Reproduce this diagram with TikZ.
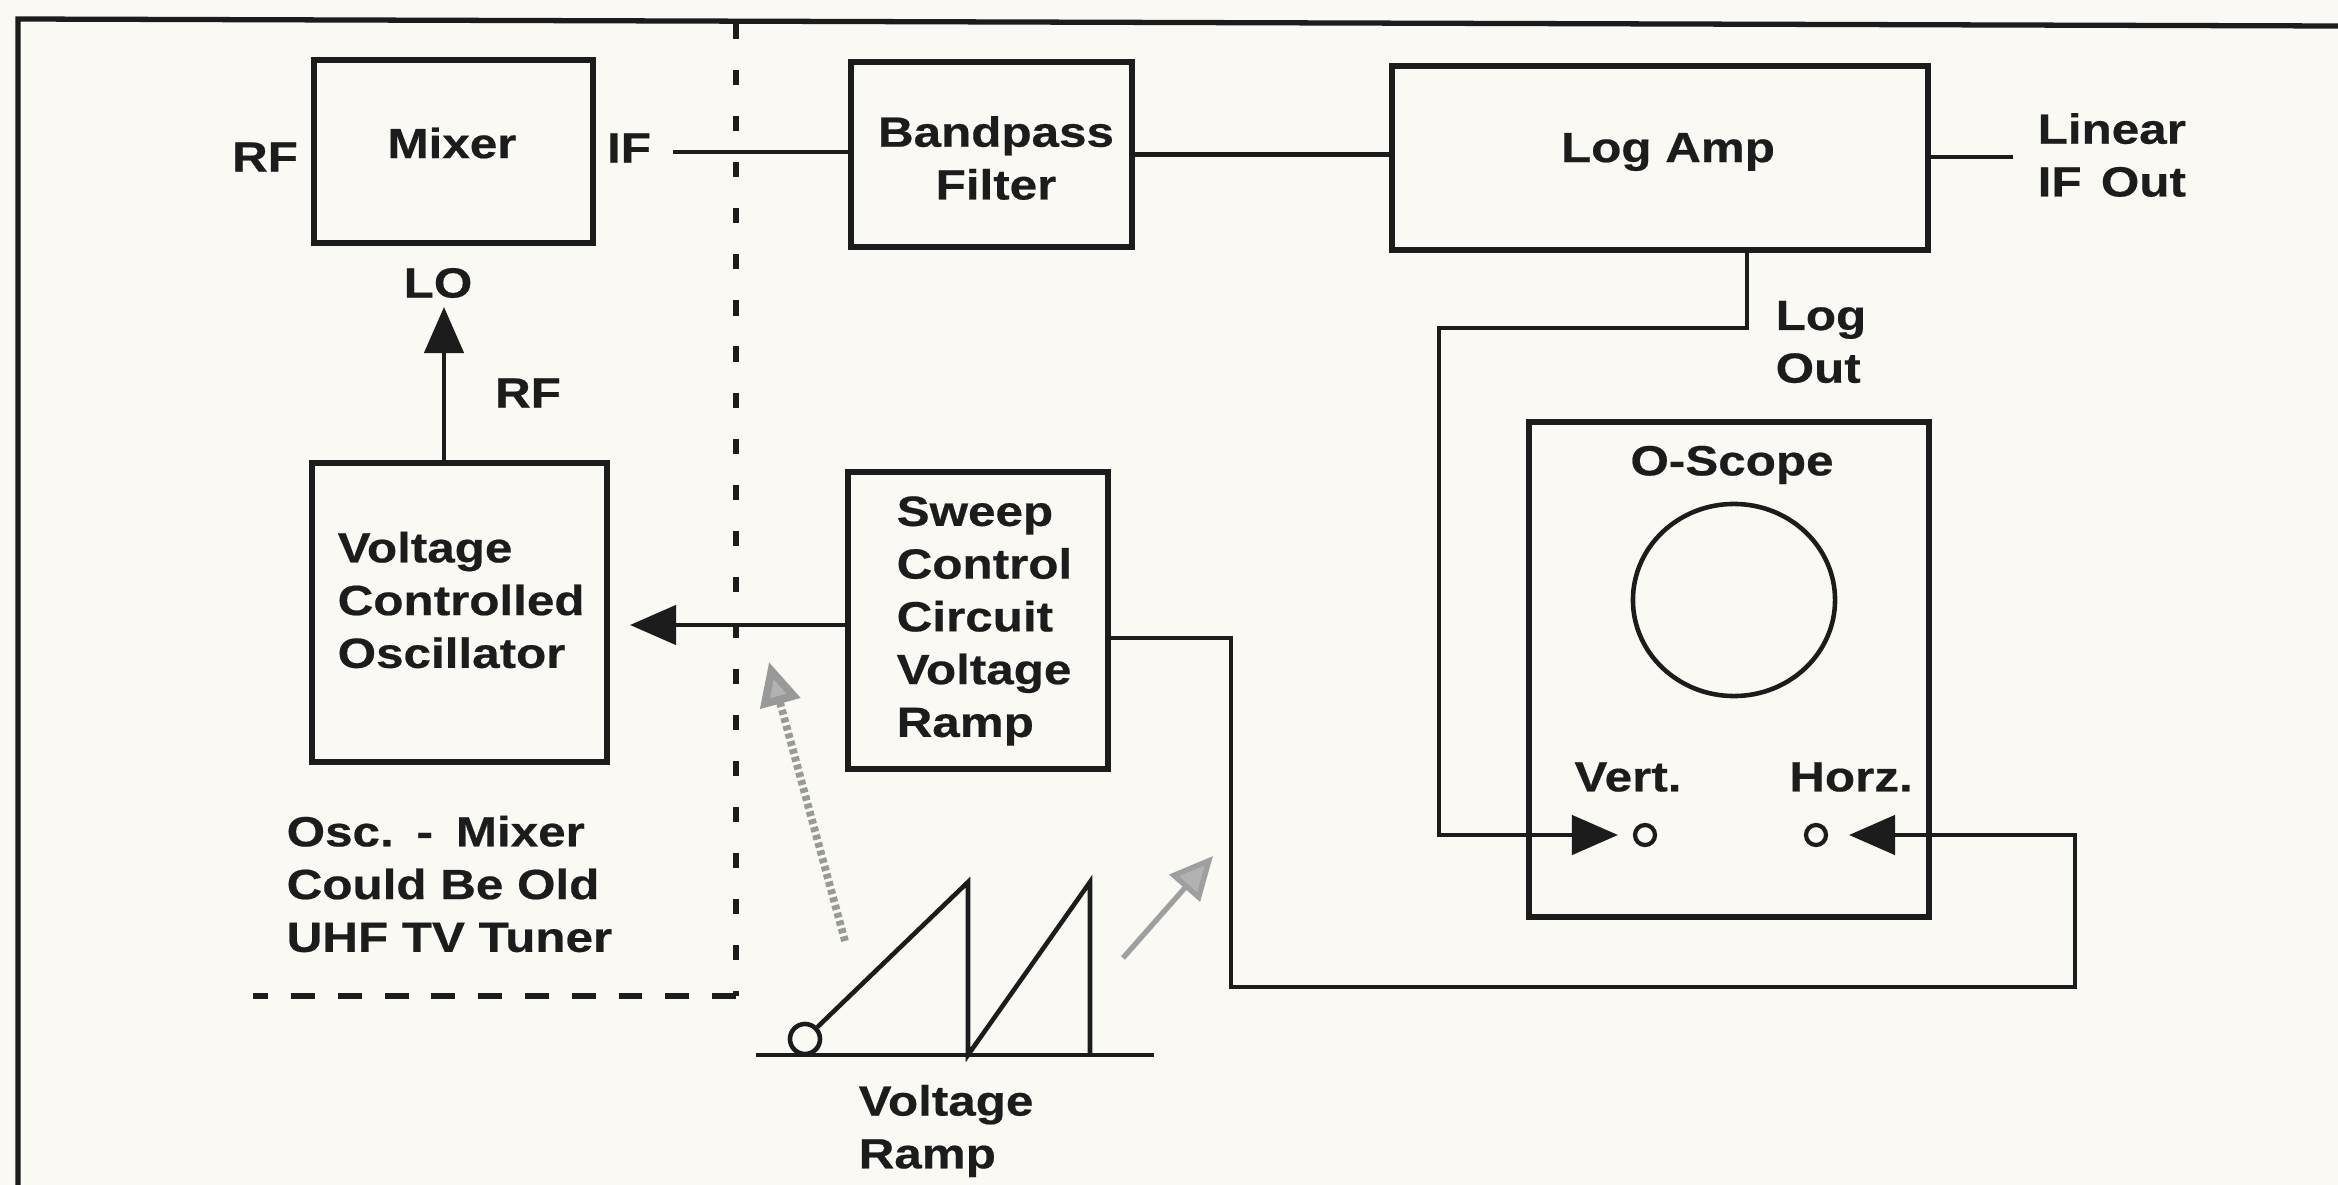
\documentclass[tikz,border=0pt]{standalone}
\usepackage{fontspec}
\setmainfont{Liberation Sans}[FakeStretch=1.17,FakeBold=0.5]
\usetikzlibrary{arrows.meta,fit,shapes.geometric}
\definecolor{paper}{RGB}{250,249,243}
\definecolor{ink}{RGB}{28,28,28}
\begin{document}
\begin{tikzpicture}[x=0.01cm,y=-0.01cm,
  box/.style={draw=ink, line width=1.5pt, inner sep=0pt},
  lbl/.style={font=\bfseries\fontsize{12}{15}\selectfont, text=ink, inner sep=0pt},
  lblL/.style={lbl, align=left, anchor=west},
  conn/.style={draw=ink, line width=1.3pt},
  arr/.style={conn, -{Triangle[length=4.6mm,width=3.9mm]}},
  dashV/.style={draw=ink, line width=1.6pt, dash pattern=on 4.3pt off 8.8pt},
  dashH/.style={draw=ink, line width=1.6pt, dash pattern=on 6.8pt off 6.5pt},
  jack/.style={draw=ink, circle, line width=1.2pt, minimum size=0.2cm, inner sep=0pt},
  shadeA/.style={draw=gray!80, line width=2.2pt, dash pattern=on 1.4pt off 0.9pt, -{Triangle[length=4.3mm,width=4mm,fill=gray!60]}},
  shadeB/.style={draw=gray!75, line width=1.5pt, -{Triangle[length=4.3mm,width=4mm,fill=gray!60]}}
]
\fill[paper] (0,0) rectangle (2338,1185);
\useasboundingbox (0,0) rectangle (2338,1185);

% outer frame
\coordinate (frTR) at (2338,26);
\coordinate (frTL) at (18,19);
\coordinate (frBL) at (18,1185);
\draw[box] (frTR) -- (frTL) -- (frBL);

% boxes
\node[box, fit={(314,60)(593,243)}] (mixer) {};
\node[box, fit={(312,463)(607,762)}] (vco) {};
\node[box, fit={(851,62)(1132,247)}] (bpf) {};
\node[box, fit={(1392,66)(1928,250)}] (logamp) {};
\node[box, fit={(848,472)(1108,769)}] (sweep) {};
\node[box, fit={(1529,422)(1929,917)}] (scope) {};
\node[draw=ink, line width=1.3pt, ellipse, minimum width=2.02cm, minimum height=1.92cm, inner sep=0pt] (screen) at (1734,600) {};
\node[jack] (vjack) at (1645,835) {};
\node[jack] (hjack) at (1816,835) {};

% texts
\node[lbl] (mixert) at (452,143) {Mixer};
\node[lbl] (rfin) at (265,157) {RF};
\node[lbl] (ifout) at (629,148) {IF};
\node[lbl] (lot) at (438,283) {LO};
\node[lbl] (rflo) at (528,393) {RF};
\node[lblL] (vcot) at (337,600) {Voltage\\Controlled\\Oscillator};
\node[lblL] (osct) at (286,884) {Osc.\hspace{6.5pt}-\hspace{6.5pt}Mixer\\Could Be Old\\UHF TV Tuner};
\node[lbl, align=center] (bpft) at (996,158) {Bandpass\\Filter};
\node[lbl] (logampt) at (1668,152) {Log Amp};
\node[lblL] (lint) at (2037,155) {Linear\\IF\hspace{5.5pt}Out};
\node[lblL] (logoutt) at (1775,342) {Log\\Out};
\node[lblL] (sweept) at (896,621) {Sweep\\Control\\Circuit\\Voltage\\Ramp};
\node[lbl] (scopet) at (1732,465) {O-Scope};
\node[lbl] (vertt) at (1628,777) {Vert.};
\node[lbl] (horzt) at (1851,777) {Horz.};
\node[lblL] (rampt) at (858,1131) {Voltage\\Ramp};

% signal connectors
\coordinate (ifend) at (673,152);
\draw[conn] (ifend) -- (ifend -| bpf.west);
\draw[conn] (bpf.east) -- (bpf.east -| logamp.west);
\coordinate (linend) at (2013,157);
\draw[conn] (linend -| logamp.east) -- (linend);
\coordinate (lotip) at (444,307);
\draw[arr] (lotip |- vco.north) -- (lotip);
\coordinate (vcotip) at (630,625);
\draw[arr] (vcotip -| sweep.west) -- (vcotip);
\coordinate (lo1) at (1747,328);
\coordinate (lo2) at (1439,835);
\coordinate (verttip) at (1618,835);
\draw[arr] (lo1 |- logamp.south) -- (lo1) -| (lo2) -- (verttip);
\coordinate (sw1) at (1231,638);
\coordinate (sw2) at (2075,987);
\coordinate (horztip) at (1849,835);
\draw[arr] (sw1 -| sweep.east) -- (sw1) |- (sw2) |- (horztip);

% dashed tuner boundary
\coordinate (dtop) at (736,24);
\coordinate (dcorner) at (736,996);
\coordinate (dleft) at (253,996);
\draw[dashV] (dtop) -- (dcorner);
\draw[dashH] (dcorner) -- (dleft);

% voltage ramp sketch
\coordinate (rb1) at (756,1055);
\coordinate (rb2) at (1154,1055);
\node[draw=ink, circle, line width=1.3pt, minimum size=0.3cm, inner sep=0pt] (rampdot) at (805,1039) {};
\coordinate (pk1) at (968,882);
\coordinate (ft1) at (968,1055);
\coordinate (pk2) at (1090,882);
\coordinate (ft2) at (1090,1055);
\draw[conn] (rb1) -- (rb2);
\draw[conn, line join=miter] (rampdot) -- (pk1) -- (ft1) -- (pk2) -- (ft2);

% shaded pointer arrows
\coordinate (s1a) at (845,941);
\coordinate (s1b) at (769,662);
\coordinate (s2a) at (1123,958);
\coordinate (s2b) at (1213,856);
\draw[shadeA] (s1a) -- (s1b);
\draw[shadeB] (s2a) -- (s2b);
\end{tikzpicture}
\end{document}
